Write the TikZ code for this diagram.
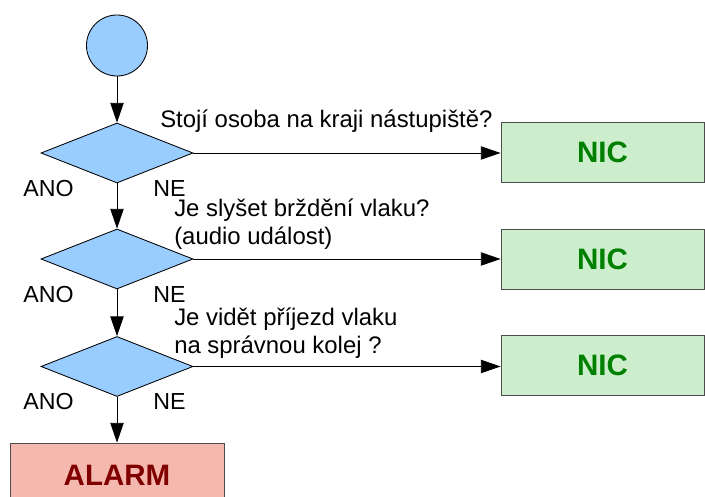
\documentclass[tikz,border=0pt]{standalone}
\usepackage{fontspec}
\setmainfont{Liberation Sans}
\usetikzlibrary{shapes.geometric,arrows.meta}
\definecolor{decblue}{HTML}{99CCFF}
\definecolor{nicfill}{HTML}{CCEECC}
\definecolor{nictext}{HTML}{008000}
\definecolor{alarmfill}{HTML}{F4B8AE}
\definecolor{alarmtext}{HTML}{800000}
\tikzset{
  startnode/.style={circle,draw=black,fill=decblue,minimum size=1.525cm,inner sep=0pt,line width=0.6pt},
  decision/.style={diamond,draw=black,fill=decblue,minimum width=3.8cm,minimum height=1.5cm,inner sep=0pt,line width=0.6pt},
  nicbox/.style={rectangle,draw=black!70,fill=nicfill,minimum width=5.075cm,minimum height=1.5cm,inner sep=0pt,
    font=\fontsize{21}{25}\selectfont\bfseries,text=nictext,line width=0.6pt},
  alarmbox/.style={rectangle,draw=black!70,fill=alarmfill,minimum width=5.35cm,minimum height=1.6cm,inner sep=0pt,
    font=\fontsize{21}{25}\selectfont\bfseries,text=alarmtext,line width=0.6pt},
  lbl/.style={anchor=base west,inner sep=0pt,font=\fontsize{16.5}{19}\selectfont},
  question/.style={lbl,font=\fontsize{17}{20}\selectfont},
  flow/.style={draw=black,line width=0.6pt,-{Triangle[length=14pt,width=9.5pt]}},
}
\begin{document}
\begin{tikzpicture}[x=0.025cm,y=-0.025cm]
\useasboundingbox (0,0) rectangle (705,497);
\clip (0,0) rectangle (705,497);
% start and decisions
\node[startnode] (start) at (117,45.5) {};
\node[decision] (d1) at (117,153) {};
\node[decision] (d2) at (117,259) {};
\node[decision] (d3) at (117,366.5) {};
% outcomes
\node[nicbox] (n1) at (602.5,152) {NIC};
\node[nicbox] (n2) at (602.5,259.5) {NIC};
\node[nicbox] (n3) at (602.5,365.5) {NIC};
\node[alarmbox] (alarm) at (117,475) {ALARM};
% connectors
\draw[flow] (start) -- (d1.north);
\draw[flow] (d1.south) -- (d2.north);
\draw[flow] (d2.south) -- (d3.north);
\draw[flow] (d3.south) -- (alarm.north);
\draw[flow] (d1.east) -- (n1.west |- d1.east);
\draw[flow] (d2.east) -- (n2.west |- d2.east);
\draw[flow] (d3.east) -- (n3.west |- d3.east);
% questions
\node[question] (q1) at (160,128) {Stojí osoba na kraji nástupiště?};
\node[question] (q2a) at (174,217) {Je slyšet brždění vlaku?};
\node[question] (q2b) at (174,245) {(audio událost)};
\node[question] (q3a) at (174,326) {Je vidět příjezd vlaku};
\node[question] (q3b) at (174,354) {na správnou kolej ?};
% branch labels
\node[lbl] (y1) at (23,197) {ANO};
\node[lbl] (x1) at (153,197) {NE};
\node[lbl] (y2) at (23,302.5) {ANO};
\node[lbl] (x2) at (153,302.5) {NE};
\node[lbl] (y3) at (23,410) {ANO};
\node[lbl] (x3) at (153,410) {NE};
\end{tikzpicture}
\end{document}
